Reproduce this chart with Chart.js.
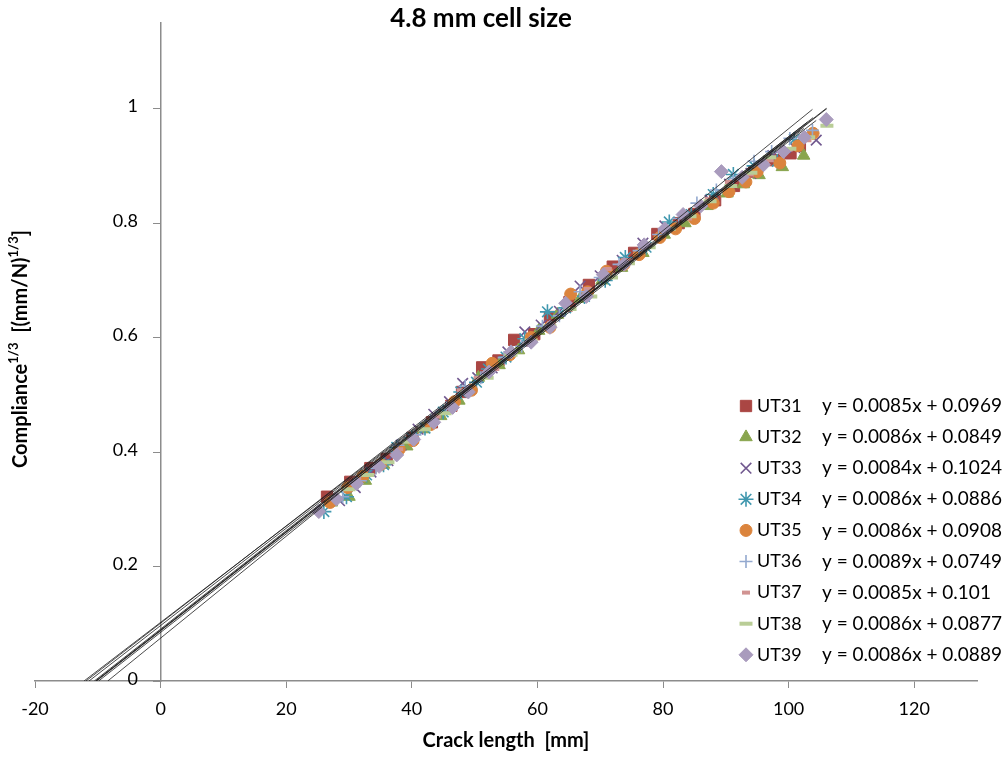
<!DOCTYPE html>
<html><head><meta charset="utf-8">
<script src="https://cdn.jsdelivr.net/npm/chart.js@4.4.0/dist/chart.umd.min.js"></script>
<style>html,body{margin:0;padding:0;background:#fff;}#wrap{width:1008px;height:757px;}</style>
</head><body><div id="wrap"><canvas id="c" width="1008" height="757"></canvas></div>
<script>
const chartTitle = '4.8 mm cell size';
const xAxisTitle = 'Crack length  [mm]';
const seriesNames = ['UT31','UT32','UT33','UT34','UT35','UT36','UT37','UT38','UT39'];
const slopes     = [0.0085, 0.0086, 0.0084, 0.0086, 0.0086, 0.0089, 0.0085, 0.0086, 0.0086];
const intercepts = [0.0969, 0.0849, 0.1024, 0.0886, 0.0908, 0.0749, 0.101, 0.0877, 0.0889];
const equations  = ['y = 0.0085x + 0.0969','y = 0.0086x + 0.0849','y = 0.0084x + 0.1024','y = 0.0086x + 0.0886','y = 0.0086x + 0.0908','y = 0.0089x + 0.0749','y = 0.0085x + 0.101','y = 0.0086x + 0.0877','y = 0.0086x + 0.0889'];

const ut31X = [26.5, 30.2, 33.4, 36.0, 40.1, 43.2, 46.3, 48.0, 51.2, 53.8, 56.3, 59.5, 62.0, 65.1, 68.2, 72.0, 75.4, 79.1, 82.5, 85.0, 88.3, 91.3, 94.5, 97.8, 100.3, 101.8];
const ut31Y = [0.322, 0.348, 0.372, 0.388, 0.425, 0.452, 0.481, 0.505, 0.548, 0.560, 0.596, 0.606, 0.636, 0.662, 0.692, 0.724, 0.748, 0.781, 0.800, 0.816, 0.840, 0.865, 0.890, 0.910, 0.922, 0.935];
const ut32X = [27.2, 30.0, 32.6, 35.5, 39.2, 41.8, 44.6, 47.5, 50.6, 53.9, 57.0, 60.2, 63.2, 66.8, 70.3, 73.4, 76.8, 80.2, 83.5, 87.0, 90.2, 92.8, 95.3, 99.0, 102.4];
const ut32Y = [0.312, 0.322, 0.350, 0.378, 0.410, 0.440, 0.463, 0.490, 0.530, 0.552, 0.578, 0.612, 0.640, 0.668, 0.700, 0.722, 0.748, 0.780, 0.800, 0.830, 0.852, 0.868, 0.884, 0.898, 0.918];
const ut33X = [28.5, 31.0, 33.5, 36.2, 38.3, 41.0, 43.5, 46.0, 48.1, 50.5, 52.8, 55.3, 58.0, 60.6, 63.5, 66.8, 70.0, 73.5, 76.8, 80.3, 84.0, 87.5, 90.6, 94.0, 97.5, 101.0, 104.4];
const ut33Y = [0.315, 0.338, 0.365, 0.385, 0.412, 0.440, 0.466, 0.488, 0.520, 0.530, 0.547, 0.575, 0.610, 0.622, 0.646, 0.690, 0.708, 0.735, 0.765, 0.795, 0.812, 0.840, 0.868, 0.887, 0.918, 0.932, 0.945];
const ut34X = [26.0, 29.6, 32.8, 35.5, 37.6, 40.0, 42.1, 45.0, 47.8, 50.3, 52.2, 55.0, 58.0, 61.6, 64.5, 67.5, 70.8, 74.0, 77.3, 81.0, 84.5, 88.0, 91.2, 94.5, 98.2, 100.9];
const ut34Y = [0.296, 0.322, 0.360, 0.378, 0.408, 0.425, 0.442, 0.470, 0.505, 0.522, 0.545, 0.566, 0.598, 0.645, 0.652, 0.672, 0.700, 0.740, 0.758, 0.802, 0.815, 0.850, 0.885, 0.900, 0.908, 0.946];
const ut35X = [27.0, 29.8, 32.2, 35.0, 38.0, 40.2, 43.0, 46.8, 49.5, 52.8, 55.6, 59.0, 62.0, 65.3, 68.0, 71.0, 73.8, 76.2, 79.5, 82.0, 85.0, 88.0, 90.5, 93.2, 95.0, 98.6, 101.5, 103.9];
const ut35Y = [0.312, 0.338, 0.358, 0.378, 0.405, 0.420, 0.448, 0.488, 0.508, 0.555, 0.570, 0.600, 0.618, 0.676, 0.680, 0.716, 0.728, 0.745, 0.775, 0.790, 0.808, 0.835, 0.855, 0.872, 0.890, 0.905, 0.935, 0.957];
const ut36X = [29.0, 31.8, 34.3, 37.8, 40.5, 43.0, 45.5, 48.5, 51.0, 54.7, 57.5, 60.8, 63.5, 66.8, 70.0, 73.0, 76.2, 79.3, 82.5, 85.4, 88.5, 91.2, 94.5, 97.3, 100.2, 103.8];
const ut36Y = [0.322, 0.350, 0.372, 0.412, 0.430, 0.455, 0.478, 0.515, 0.530, 0.565, 0.585, 0.620, 0.638, 0.680, 0.705, 0.728, 0.752, 0.780, 0.808, 0.835, 0.858, 0.878, 0.908, 0.925, 0.948, 0.962];
const ut37X = [28.0, 31.3, 34.8, 38.0, 41.2, 44.0, 47.8, 50.5, 53.3, 56.0, 58.8, 62.2, 65.0, 68.0, 71.2, 74.5, 77.5, 80.8, 84.0, 87.3, 90.5, 93.8, 97.0, 100.0, 103.0];
const ut37Y = [0.320, 0.352, 0.376, 0.405, 0.440, 0.462, 0.508, 0.530, 0.545, 0.572, 0.588, 0.625, 0.648, 0.685, 0.720, 0.735, 0.762, 0.790, 0.808, 0.842, 0.872, 0.885, 0.910, 0.928, 0.945];
const ut38X = [30.0, 33.0, 36.2, 39.5, 42.0, 45.3, 48.8, 52.0, 55.8, 59.0, 62.0, 65.2, 68.5, 71.8, 74.5, 77.8, 81.0, 84.3, 87.5, 90.8, 94.0, 97.0, 100.2, 103.2, 106.1];
const ut38Y = [0.335, 0.360, 0.382, 0.418, 0.440, 0.468, 0.505, 0.530, 0.570, 0.595, 0.620, 0.650, 0.672, 0.705, 0.730, 0.758, 0.790, 0.812, 0.838, 0.865, 0.888, 0.915, 0.930, 0.950, 0.970];
const ut39X = [25.2, 28.0, 31.2, 34.8, 37.6, 40.3, 43.5, 46.5, 49.0, 52.3, 55.8, 59.0, 62.0, 64.5, 67.8, 70.5, 73.8, 77.0, 80.3, 83.2, 86.0, 89.3, 92.6, 96.0, 99.2, 102.5, 106.0];
const ut39Y = [0.296, 0.318, 0.345, 0.375, 0.395, 0.422, 0.452, 0.478, 0.505, 0.540, 0.575, 0.592, 0.618, 0.660, 0.672, 0.710, 0.728, 0.762, 0.790, 0.815, 0.830, 0.890, 0.880, 0.902, 0.925, 0.950, 0.981];

const xValues = [ut31X, ut32X, ut33X, ut34X, ut35X, ut36X, ut37X, ut38X, ut39X];
const yValues = [ut31Y, ut32Y, ut33Y, ut34Y, ut35Y, ut36Y, ut37Y, ut38Y, ut39Y];

const colors  = ['#AA4643','#89A54E','#71588F','#4198AF','#DB843D','#93A9CF','#D19392','#B9CD96','#A99BBD'];
const styles  = ['rect','triangle','crossRot','star','circle','cross','line','line','rectRot'];
const radii   = [8, 7.2, 7.5, 7.5, 6, 6.5, 4, 6.5, 7];
const bwidths = [1, 1, 1.6, 1.6, 1, 1.6, 4, 4, 1];

const FONT = 'Lato, "Open Sans", sans-serif';

const datasets = [];
seriesNames.forEach((name, i) => {
  datasets.push({
    label: name,
    data: xValues[i].map((x, k) => ({x: x, y: yValues[i][k]})),
    pointStyle: styles[i], pointRadius: radii[i], pointHoverRadius: radii[i],
    pointBackgroundColor: colors[i], pointBorderColor: colors[i], pointBorderWidth: bwidths[i],
    showLine: false, order: 20 - i
  });
});
seriesNames.forEach((name, i) => {
  const xs = xValues[i];
  const x0 = -intercepts[i] / slopes[i];
  const x1 = Math.max.apply(null, xs);
  datasets.push({
    label: name + ' trend',
    type: 'line',
    data: [{x: x0, y: slopes[i] * x0 + intercepts[i]}, {x: x1, y: slopes[i] * x1 + intercepts[i]}],
    borderColor: 'rgba(30,30,30,0.8)', borderWidth: 1, pointRadius: 0, pointHoverRadius: 0,
    fill: false, tension: 0, order: 0
  });
});

function drawMarker(ctx, i, x, y) {
  ctx.save();
  ctx.fillStyle = colors[i]; ctx.strokeStyle = colors[i]; ctx.lineWidth = bwidths[i];
  Chart.helpers.drawPoint(ctx, {pointStyle: styles[i], radius: radii[i], rotation: 0, borderWidth: bwidths[i]}, x, y);
  ctx.restore();
}

const textPlugin = {
  id: 'texts',
  afterDraw(chart) {
    const ctx = chart.ctx;
    ctx.save();
    ctx.fillStyle = '#000';
    // chart title
    ctx.font = 'bold 26px ' + FONT;
    ctx.textAlign = 'center'; ctx.textBaseline = 'middle';
    ctx.fillText(chartTitle, 481, 19);
    // y axis title with superscripts
    const parts = [
      {t: 'Compliance', f: 'bold 20px ' + FONT, dy: 0},
      {t: '1/3', f: 'bold 13px ' + FONT, dy: -7},
      {t: '  [(mm/N)', f: 'bold 20px ' + FONT, dy: 0},
      {t: '1/3', f: 'bold 13px ' + FONT, dy: -7},
      {t: ']', f: 'bold 20px ' + FONT, dy: 0}
    ];
    let total = 0;
    parts.forEach(p => { ctx.font = p.f; p.w = ctx.measureText(p.t).width; total += p.w; });
    ctx.translate(21, 349);
    ctx.rotate(-Math.PI / 2);
    ctx.textAlign = 'left'; ctx.textBaseline = 'middle';
    let px = -total / 2;
    parts.forEach(p => { ctx.font = p.f; ctx.fillText(p.t, px, p.dy); px += p.w; });
    ctx.restore();

    // legend
    ctx.save();
    ctx.fillStyle = '#000';
    ctx.textBaseline = 'middle'; ctx.textAlign = 'left';
    seriesNames.forEach((name, i) => {
      const ry = 406 + i * 31.1;
      drawMarker(ctx, i, 746, ry);
      ctx.fillStyle = '#000';
      ctx.font = '18px ' + FONT;
      ctx.fillText(name, 757, ry);
      ctx.font = '19px ' + FONT;
      ctx.fillText(equations[i], 822, ry);
    });
    ctx.restore();
  }
};

new Chart(document.getElementById('c'), {
  type: 'scatter',
  data: {datasets: datasets},
  options: {
    responsive: false, devicePixelRatio: 1, animation: false,
    layout: {padding: {left: 35, right: 31, top: 19, bottom: 0}},
    plugins: {legend: {display: false}, tooltip: {enabled: false}, title: {display: false}},
    scales: {
      x: {
        type: 'linear', position: 'bottom', min: -20, max: 130,
        ticks: {stepSize: 20, includeBounds: false, color: '#000', font: {family: FONT, size: 18}, padding: 10, maxRotation: 0},
        grid: {display: true, drawOnChartArea: false, drawTicks: true, tickLength: 7, color: '#8c8c8c'},
        border: {display: true, color: '#8c8c8c', width: 1.5},
        title: {display: true, text: xAxisTitle, color: '#000', font: {family: FONT, size: 20, weight: 'bold'}, padding: {top: 0, bottom: 4}},
        afterFit(scale) { scale.height = 76; }
      },
      y: {
        type: 'linear', position: {x: 0}, min: 0, max: 1.15,
        ticks: {stepSize: 0.2, includeBounds: false, color: '#000', font: {family: FONT, size: 18}, padding: 12, labelOffset: -2,
                callback: (v) => String(Math.round(v * 10) / 10) + '\u2002\u2002 '},
        grid: {display: true, drawOnChartArea: false, drawTicks: true, tickLength: 7, color: '#8c8c8c'},
        border: {display: true, color: '#8c8c8c', width: 1.5}
      }
    }
  },
  plugins: [textPlugin]
});
</script>
</body></html>
